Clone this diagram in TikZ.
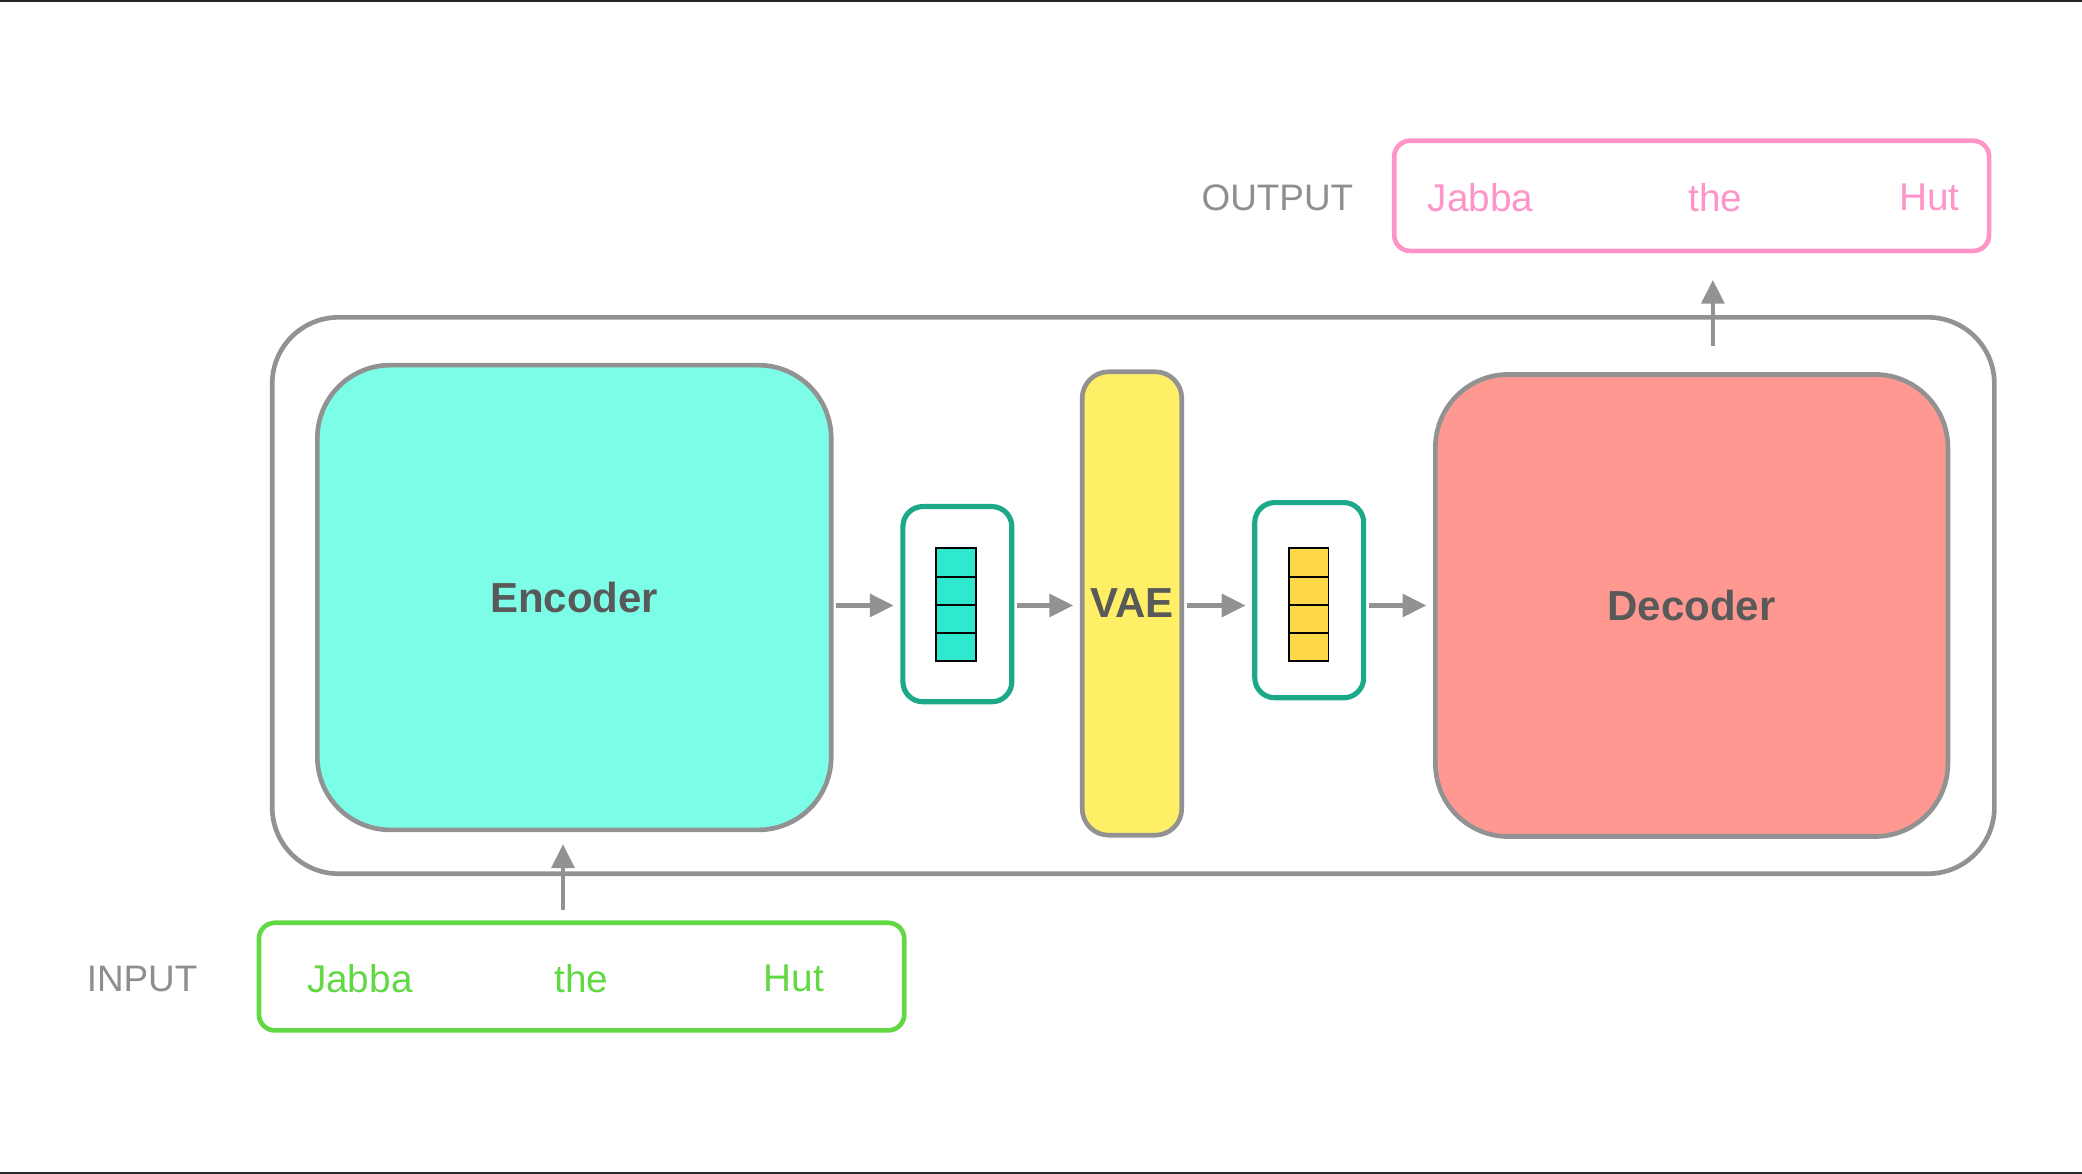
\documentclass[tikz,border=0pt]{standalone}
\usepackage{xcolor}
\usepackage{fontspec}
\setmainfont{Liberation Sans}
\usepackage{tikz}
\usetikzlibrary{positioning,calc,arrows.meta}

\definecolor{linegray}{HTML}{929292}
\definecolor{labelgray}{HTML}{8E8E8E}
\definecolor{titlegray}{HTML}{595959}
\definecolor{encfill}{HTML}{7BFDE8}
\definecolor{decfill}{HTML}{FF9890}
\definecolor{vaefill}{HTML}{FFEF66}
\definecolor{tealline}{HTML}{1CA98A}
\definecolor{cellteal}{HTML}{2EE8D0}
\definecolor{cellyellow}{HTML}{FFD84A}
\definecolor{ingreen}{HTML}{62D844}
\definecolor{outpink}{HTML}{FF94C8}

\tikzset{
    box/.style={draw=linegray, line width=1pt, inner sep=0pt},
    vecbox/.style={draw=tealline, line width=1.1pt, rounded corners=0.15cm, minimum width=0.82cm, minimum height=1.47cm, inner sep=0pt},
    cell/.style={draw=black, line width=0.4pt, minimum width=0.30cm, minimum height=0.2125cm, inner sep=0pt},
    flow/.style={draw=linegray, line width=1pt, -{Triangle[length=0.18cm,width=0.17cm]}, shorten <=0.02cm, shorten >=0.05cm},
    word/.style={font=\fontsize{8.3}{10}\selectfont},
    tag/.style={text=labelgray, font=\fontsize{7.9}{10}\selectfont},
    title/.style={text=titlegray, font=\fontsize{9}{11}\selectfont\bfseries}
}

\begin{document}
\begin{tikzpicture}[x=1cm,y=-1cm]
        \useasboundingbox (0,0) rectangle (15.68,8.84);
        \draw[black!85, line width=0.5pt] (0,0.008) -- (15.68,0.008);
        \draw[black!85, line width=0.5pt] (0,8.832) -- (15.68,8.832);

        % model frame
        \node[box, rounded corners=0.5cm, minimum width=12.97cm, minimum height=4.19cm] (frame) at (8.535,4.485) {};

        \node[box, fill=encfill, rounded corners=0.55cm, minimum width=3.87cm, minimum height=3.50cm, title] (enc) at (4.325,4.50) {Encoder};
        \node[box, fill=vaefill, rounded corners=0.2cm, minimum width=0.75cm, minimum height=3.49cm, title] (vae) at (8.525,4.545) {VAE};
        \node[box, fill=decfill, rounded corners=0.55cm, minimum width=3.86cm, minimum height=3.48cm, title] (dec) at (12.74,4.56) {Decoder};

        % latent vectors
        \node[vecbox] (veca) at (7.21,4.55) {};
        \node[vecbox] (vecb) at (9.86,4.52) {};
        \foreach \i in {1,...,4} {
            \node[cell, fill=cellteal] (ca\i) at (7.20,{4.13+0.2125*(\i-0.5)}) {};
            \node[cell, fill=cellyellow] (cb\i) at (9.855,{4.13+0.2125*(\i-0.5)}) {};
        }

        \draw[flow] (enc.east |- 0,4.56) -- (veca.west |- 0,4.56);
        \draw[flow] (veca.east |- 0,4.56) -- (vae.west |- 0,4.56);
        \draw[flow] (vae.east |- 0,4.56) -- (vecb.west |- 0,4.56);
        \draw[flow] (vecb.east |- 0,4.56) -- (dec.west |- 0,4.56);

        % input
        \node[tag] (intag) at (1.07,7.37) {INPUT};
        \node[draw=ingreen, line width=1pt, rounded corners=0.12cm, minimum width=4.86cm, minimum height=0.81cm] (inbox) at (4.38,7.355) {};
        \node[word, text=ingreen] (ina) at (2.71,7.37) {Jabba};
        \node[word, text=ingreen] (inb) at (4.38,7.37) {the};
        \node[word, text=ingreen] (inc) at (5.98,7.37) {Hut};
        \draw[flow, shorten <=0.08cm, shorten >=0.09cm] (inbox.north -| 4.24,0) -- (enc.south -| 4.24,0);

        % output
        \node[tag] (outtag) at (9.62,1.49) {OUTPUT};
        \node[draw=outpink, line width=1pt, rounded corners=0.12cm, minimum width=4.48cm, minimum height=0.83cm] (outbox) at (12.74,1.475) {};
        \node[word, text=outpink] (outa) at (11.15,1.49) {Jabba};
        \node[word, text=outpink] (outb) at (12.92,1.49) {the};
        \node[word, text=outpink] (outc) at (14.53,1.49) {Hut};
        \draw[flow, shorten <=0.2cm, shorten >=0.2cm] (dec.north -| 12.90,0) -- (outbox.south -| 12.90,0);
    \end{tikzpicture}
\end{document}
